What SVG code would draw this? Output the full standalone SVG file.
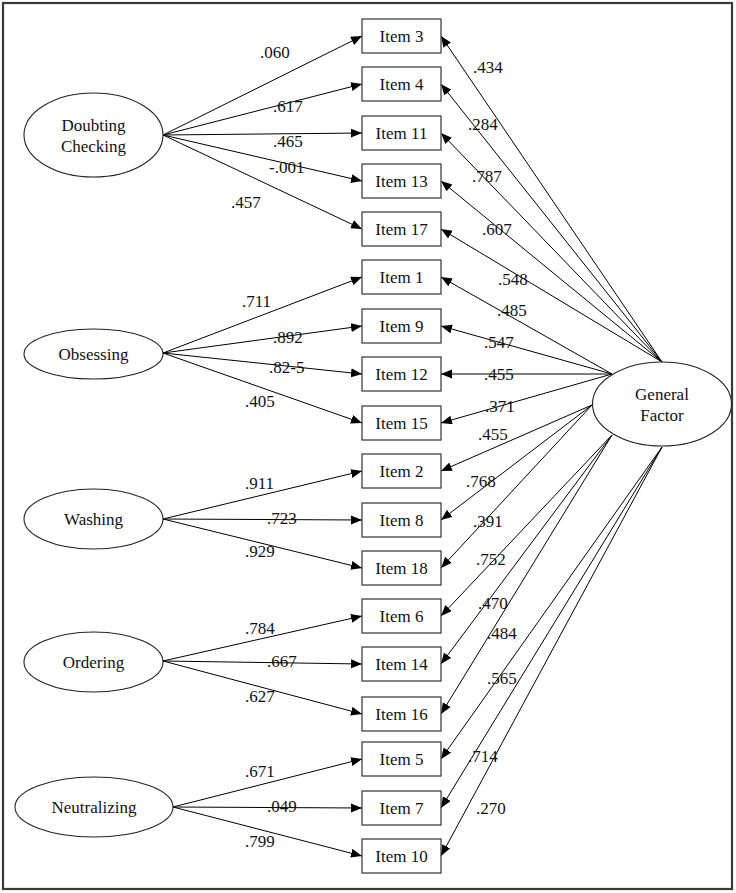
<svg xmlns="http://www.w3.org/2000/svg" width="736" height="893" viewBox="0 0 736 893">
<defs>
<marker id="ah" markerUnits="userSpaceOnUse" markerWidth="12" markerHeight="10" refX="11" refY="4.5" orient="auto">
<path d="M0,0 L11,4.5 L0,9 z" fill="#000"/>
</marker>
<style>
.frame{fill:#fff;stroke:#3a3a3a;stroke-width:2.2}
.box{fill:#fff;stroke:#333;stroke-width:1.2}
.ell{fill:#fff;stroke:#222;stroke-width:1.1}
.t{font-family:"Liberation Serif","Times New Roman",serif;font-size:17px;fill:#111}
.c{text-anchor:middle}
.ln{stroke:#000;stroke-width:1;fill:none;marker-end:url(#ah)}
</style>
</defs>
<rect class="frame" x="3" y="3" width="729" height="886"/>

<g id="connectors">
<line class="ln" x1="163" y1="135" x2="362" y2="36"/>
<line class="ln" x1="163" y1="135" x2="362" y2="84"/>
<line class="ln" x1="163" y1="135" x2="362" y2="133"/>
<line class="ln" x1="163" y1="135" x2="362" y2="181"/>
<line class="ln" x1="163" y1="135" x2="362" y2="229"/>
<line class="ln" x1="163" y1="353" x2="362" y2="277"/>
<line class="ln" x1="163" y1="353" x2="362" y2="326"/>
<line class="ln" x1="163" y1="353" x2="362" y2="374"/>
<line class="ln" x1="163" y1="353" x2="362" y2="423"/>
<line class="ln" x1="163" y1="519" x2="362" y2="471"/>
<line class="ln" x1="163" y1="519" x2="362" y2="520"/>
<line class="ln" x1="163" y1="519" x2="362" y2="568"/>
<line class="ln" x1="163" y1="661" x2="362" y2="616"/>
<line class="ln" x1="163" y1="661" x2="362" y2="664"/>
<line class="ln" x1="163" y1="661" x2="362" y2="714"/>
<line class="ln" x1="173" y1="807" x2="362" y2="759"/>
<line class="ln" x1="173" y1="807" x2="362" y2="808"/>
<line class="ln" x1="173" y1="807" x2="362" y2="856"/>

<line class="ln" x1="662" y1="362" x2="441" y2="36"/>
<line class="ln" x1="662" y1="362" x2="441" y2="84"/>
<line class="ln" x1="662" y1="362" x2="441" y2="133"/>
<line class="ln" x1="662" y1="362" x2="441" y2="181"/>
<line class="ln" x1="662" y1="362" x2="441" y2="229"/>
<line class="ln" x1="612" y1="374" x2="441" y2="277"/>
<line class="ln" x1="612" y1="374" x2="441" y2="326"/>
<line class="ln" x1="612" y1="374" x2="441" y2="374"/>
<line class="ln" x1="612" y1="374" x2="441" y2="423"/>
<line class="ln" x1="592" y1="405" x2="441" y2="471"/>
<line class="ln" x1="592" y1="405" x2="441" y2="520"/>
<line class="ln" x1="592" y1="405" x2="441" y2="568"/>
<line class="ln" x1="612" y1="435" x2="441" y2="616"/>
<line class="ln" x1="612" y1="435" x2="441" y2="664"/>
<line class="ln" x1="612" y1="435" x2="441" y2="714"/>
<line class="ln" x1="662" y1="447" x2="441" y2="759"/>
<line class="ln" x1="662" y1="447" x2="441" y2="808"/>
<line class="ln" x1="662" y1="447" x2="441" y2="856"/>
</g>

<g id="labels" class="t">
<text x="260" y="58">.060</text>
<text x="273" y="112">.617</text>
<text x="273" y="147">.465</text>
<text x="269" y="173">-.001</text>
<text x="231" y="208">.457</text>
<text x="242" y="307">.711</text>
<text x="273" y="343">.892</text>
<text x="269" y="373">.82-5</text>
<text x="245" y="407">.405</text>
<text x="245" y="489">.911</text>
<text x="267" y="524">.723</text>
<text x="245" y="557">.929</text>
<text x="245" y="634">.784</text>
<text x="267" y="667">.667</text>
<text x="245" y="702">.627</text>
<text x="245" y="777">.671</text>
<text x="267" y="812">.049</text>
<text x="245" y="847">.799</text>

<text x="473" y="73">.434</text>
<text x="468" y="130">.284</text>
<text x="472" y="182">.787</text>
<text x="482" y="235">.607</text>
<text x="498" y="285">.548</text>
<text x="497" y="316">.485</text>
<text x="484" y="348">.547</text>
<text x="484" y="380">.455</text>
<text x="485" y="412">.371</text>
<text x="478" y="440">.455</text>
<text x="466" y="487">.768</text>
<text x="473" y="527">.391</text>
<text x="476" y="565">.752</text>
<text x="478" y="609">.470</text>
<text x="487" y="639">.484</text>
<text x="487" y="684">.565</text>
<text x="468" y="762">.714</text>
<text x="476" y="814">.270</text>
</g>

<g id="item3"><rect class="box" x="362" y="19" width="79" height="34"/><text class="t c" x="401.5" y="42">Item 3</text></g>
<g id="item4"><rect class="box" x="362" y="67" width="79" height="34"/><text class="t c" x="401.5" y="90">Item 4</text></g>
<g id="item11"><rect class="box" x="362" y="116" width="79" height="34"/><text class="t c" x="401.5" y="139">Item 11</text></g>
<g id="item13"><rect class="box" x="362" y="164" width="79" height="34"/><text class="t c" x="401.5" y="187">Item 13</text></g>
<g id="item17"><rect class="box" x="362" y="212" width="79" height="34"/><text class="t c" x="401.5" y="235">Item 17</text></g>
<g id="item1"><rect class="box" x="362" y="260" width="79" height="34"/><text class="t c" x="401.5" y="283">Item 1</text></g>
<g id="item9"><rect class="box" x="362" y="309" width="79" height="34"/><text class="t c" x="401.5" y="332">Item 9</text></g>
<g id="item12"><rect class="box" x="362" y="357" width="79" height="34"/><text class="t c" x="401.5" y="380">Item 12</text></g>
<g id="item15"><rect class="box" x="362" y="406" width="79" height="34"/><text class="t c" x="401.5" y="429">Item 15</text></g>
<g id="item2"><rect class="box" x="362" y="454" width="79" height="34"/><text class="t c" x="401.5" y="477">Item 2</text></g>
<g id="item8"><rect class="box" x="362" y="503" width="79" height="34"/><text class="t c" x="401.5" y="526">Item 8</text></g>
<g id="item18"><rect class="box" x="362" y="551" width="79" height="34"/><text class="t c" x="401.5" y="574">Item 18</text></g>
<g id="item6"><rect class="box" x="362" y="599" width="79" height="34"/><text class="t c" x="401.5" y="622">Item 6</text></g>
<g id="item14"><rect class="box" x="362" y="647" width="79" height="34"/><text class="t c" x="401.5" y="670">Item 14</text></g>
<g id="item16"><rect class="box" x="362" y="697" width="79" height="34"/><text class="t c" x="401.5" y="720">Item 16</text></g>
<g id="item5"><rect class="box" x="362" y="742" width="79" height="34"/><text class="t c" x="401.5" y="765">Item 5</text></g>
<g id="item7"><rect class="box" x="362" y="791" width="79" height="34"/><text class="t c" x="401.5" y="814">Item 7</text></g>
<g id="item10"><rect class="box" x="362" y="839" width="79" height="34"/><text class="t c" x="401.5" y="862">Item 10</text></g>

<g id="doubting"><ellipse class="ell" cx="93.5" cy="135" rx="69.5" ry="42"/><text class="t c" x="93.5" y="131">Doubting</text><text class="t c" x="93.5" y="152">Checking</text></g>
<g id="obsessing"><ellipse class="ell" cx="93.5" cy="354" rx="69.5" ry="25"/><text class="t c" x="93.5" y="360">Obsessing</text></g>
<g id="washing"><ellipse class="ell" cx="93.5" cy="519" rx="69.5" ry="30"/><text class="t c" x="93.5" y="525">Washing</text></g>
<g id="ordering"><ellipse class="ell" cx="93.5" cy="662" rx="69.5" ry="30"/><text class="t c" x="93.5" y="668">Ordering</text></g>
<g id="neutralizing"><ellipse class="ell" cx="94" cy="807" rx="79" ry="30"/><text class="t c" x="94" y="813">Neutralizing</text></g>
<g id="general"><ellipse class="ell" cx="662" cy="404" rx="69.5" ry="42"/><text class="t c" x="662" y="400">General</text><text class="t c" x="662" y="421">Factor</text></g>
</svg>
